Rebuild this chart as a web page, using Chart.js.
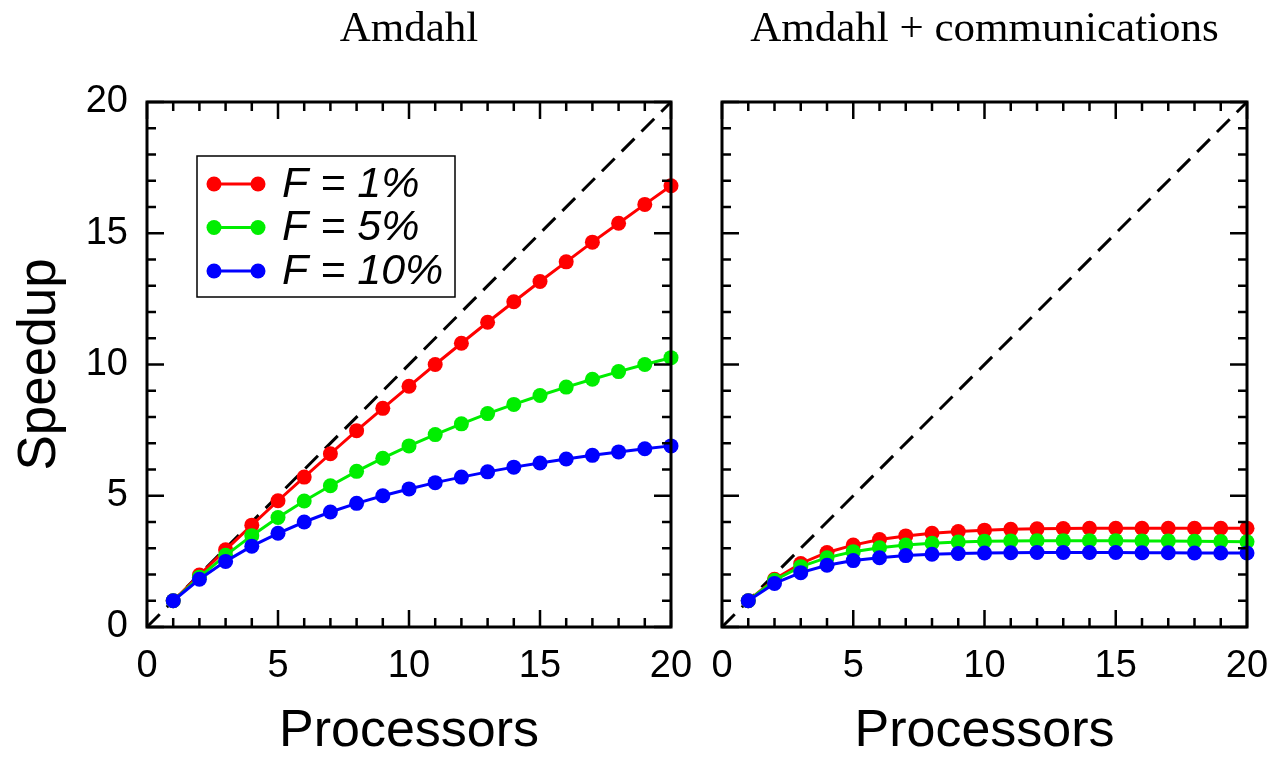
<!DOCTYPE html>
<html><head><meta charset="utf-8">
<script src="https://cdn.jsdelivr.net/npm/chart.js@4.4.1/dist/chart.umd.min.js"></script>
<style>
html,body{margin:0;padding:0;background:#fff;width:1274px;height:758px;overflow:hidden}
.panel{position:absolute;top:0;height:758px}
#w1{left:0;width:700px}
#w2{left:700px;width:574px}
</style></head><body>
<div class="panel" id="w1"><canvas id="c1" width="700" height="758"></canvas></div>
<div class="panel" id="w2"><canvas id="c2" width="574" height="758"></canvas></div>
<script>
// ---- data ----
const processors = [1,2,3,4,5,6,7,8,9,10,11,12,13,14,15,16,17,18,19,20];
const seriesLabels = ['F = 1%', 'F = 5%', 'F = 10%'];
const seriesColors = ['#ff0000', '#00ee00', '#0000ff'];
const panelTitles = ['Amdahl', 'Amdahl + communications'];
const axisRange = [0, 20];
const tickStep = 5;

// left panel: Amdahl
const amdahlF1  = [1.00,1.98,2.94,3.88,4.81,5.71,6.60,7.48,8.33,9.17,10.00,10.81,11.61,12.39,13.16,13.91,14.66,15.38,16.10,16.81];
const amdahlF5  = [1.00,1.90,2.73,3.48,4.17,4.80,5.38,5.93,6.43,6.90,7.33,7.74,8.13,8.48,8.82,9.14,9.44,9.73,10.00,10.26];
const amdahlF10 = [1.00,1.82,2.50,3.08,3.57,4.00,4.38,4.71,5.00,5.26,5.50,5.71,5.91,6.09,6.25,6.40,6.54,6.67,6.79,6.90];

// right panel: Amdahl + communications
const commF1  = [1.00,1.82,2.42,2.84,3.12,3.33,3.47,3.57,3.64,3.69,3.72,3.74,3.75,3.76,3.76,3.76,3.76,3.76,3.76,3.76];
const commF5  = [1.00,1.78,2.30,2.64,2.87,3.02,3.12,3.19,3.24,3.27,3.28,3.29,3.29,3.29,3.29,3.28,3.28,3.27,3.26,3.25];
const commF10 = [1.00,1.66,2.07,2.35,2.53,2.64,2.72,2.77,2.80,2.82,2.83,2.84,2.84,2.84,2.84,2.83,2.83,2.82,2.82,2.82];

// ideal speedup reference line
const idealX = [0, 20];
const idealY = [0, 20];

// ---- helpers ----
const SANS = "'Liberation Sans', Arial, Helvetica, sans-serif";
const SERIF = "'Liberation Serif', 'Times New Roman', serif";

function pts(xs, ys){ return xs.map((v,i)=>({x:v, y:ys[i]})); }

function buildDatasets(seriesArrays){
  const ds = seriesArrays.map((arr,i)=>({
    label: seriesLabels[i],
    data: pts(processors, arr),
    borderColor: seriesColors[i],
    backgroundColor: seriesColors[i],
    borderWidth: 3,
    pointRadius: 7.5,
    pointHoverRadius: 7.5,
    pointBorderWidth: 0,
    tension: 0,
    clip: false,
    order: 3 - i
  }));
  ds.push({
    label: '',
    data: pts(idealX, idealY),
    borderColor: '#000',
    borderWidth: 3,
    borderDash: [18, 10],
    pointRadius: 0,
    tension: 0,
    clip: false,
    order: 10
  });
  return ds;
}

const frameTicks = {
  id: 'frameTicks',
  afterDatasetsDraw(chart){
    const {ctx, chartArea:a, scales:{x, y}} = chart;
    ctx.save();
    ctx.strokeStyle = '#000';
    ctx.lineWidth = 2.5;
    ctx.setLineDash([]);
    ctx.beginPath();
    for (let v = x.min; v <= x.max; v++){
      const len = (v % tickStep === 0) ? 17 : 9;
      const px = x.getPixelForValue(v);
      ctx.moveTo(px, a.bottom); ctx.lineTo(px, a.bottom - len);
      ctx.moveTo(px, a.top);    ctx.lineTo(px, a.top + len);
    }
    for (let v = y.min; v <= y.max; v++){
      const len = (v % tickStep === 0) ? 17 : 9;
      const py = y.getPixelForValue(v);
      ctx.moveTo(a.left, py);  ctx.lineTo(a.left + len, py);
      ctx.moveTo(a.right, py); ctx.lineTo(a.right - len, py);
    }
    ctx.stroke();
    ctx.lineWidth = 3;
    ctx.strokeRect(a.left, a.top, a.right - a.left, a.bottom - a.top);
    ctx.restore();
  }
};

const panelTitle = {
  id: 'panelTitle',
  afterDraw(chart, args, opts){
    const {ctx, chartArea:a} = chart;
    ctx.save();
    ctx.fillStyle = '#000';
    ctx.font = "43px " + SERIF;
    ctx.textAlign = 'center';
    ctx.textBaseline = 'middle';
    ctx.fillText(opts.text, (a.left + a.right) / 2, 30);
    ctx.restore();
  }
};

const insetLegend = {
  id: 'insetLegend',
  afterDraw(chart){
    const {ctx, chartArea:a} = chart;
    const bx = a.left + 50, by = a.top + 54, bw = 258, bh = 141;
    ctx.save();
    ctx.fillStyle = '#fff';
    ctx.fillRect(bx, by, bw, bh);
    ctx.strokeStyle = '#000';
    ctx.lineWidth = 1.5;
    ctx.strokeRect(bx, by, bw, bh);
    const items = chart.data.datasets.filter(d => d.label);
    items.forEach((d, i) => {
      const cy = by + 28 + i * 43.5;
      const x1 = bx + 17, x2 = bx + 61;
      ctx.strokeStyle = d.borderColor;
      ctx.lineWidth = 3;
      ctx.beginPath(); ctx.moveTo(x1, cy); ctx.lineTo(x2, cy); ctx.stroke();
      ctx.fillStyle = d.backgroundColor;
      [x1, x2].forEach(px => { ctx.beginPath(); ctx.arc(px, cy, 7.5, 0, Math.PI*2); ctx.fill(); });
      ctx.fillStyle = '#000';
      ctx.font = "italic 43px " + SANS;
      ctx.textBaseline = 'middle';
      ctx.textAlign = 'left';
      ctx.fillText(d.label, bx + 85, cy + 1);
    });
    ctx.restore();
  }
};

function makeChart(canvasId, title, seriesArrays, isLeft){
  const plugins = [frameTicks, panelTitle];
  if (isLeft) plugins.push(insetLegend);
  return new Chart(document.getElementById(canvasId), {
    type: 'line',
    data: { datasets: buildDatasets(seriesArrays) },
    plugins,
    options: {
      responsive: false,
      animation: false,
      events: [],
      layout: { padding: { left: 0, right: isLeft ? 29 : 27, top: 102, bottom: 0 } },
      plugins: {
        legend: { display: false },
        tooltip: { enabled: false },
        title: { display: false },
        panelTitle: { text: title }
      },
      scales: {
        x: {
          type: 'linear',
          min: axisRange[0], max: axisRange[1],
          grid: { display: false, drawTicks: false },
          border: { display: false },
          ticks: { stepSize: tickStep, color: '#000', padding: 17, font: { family: SANS, size: 38 }, maxRotation: 0 },
          title: { display: true, text: 'Processors', color: '#000', font: { family: SANS, size: 52, lineHeight: 1 }, padding: 0 },
          afterFit(s){ s.height = 131; s.paddingLeft = 0; s.paddingRight = 0; }
        },
        y: {
          type: 'linear',
          min: axisRange[0], max: axisRange[1],
          grid: { display: false, drawTicks: false },
          border: { display: false },
          ticks: { display: isLeft, stepSize: tickStep, color: '#000', padding: 19, font: { family: SANS, size: 38 } },
          title: { display: isLeft, text: 'Speedup', color: '#000', font: { family: SANS, size: 53, lineHeight: 1 }, padding: { top: 14 } },
          afterFit(s){ s.width = isLeft ? 147 : 22; s.paddingTop = 0; s.paddingBottom = 0; }
        }
      }
    }
  });
}

makeChart('c1', panelTitles[0], [amdahlF1, amdahlF5, amdahlF10], true);
makeChart('c2', panelTitles[1], [commF1, commF5, commF10], false);
</script>
</body></html>
